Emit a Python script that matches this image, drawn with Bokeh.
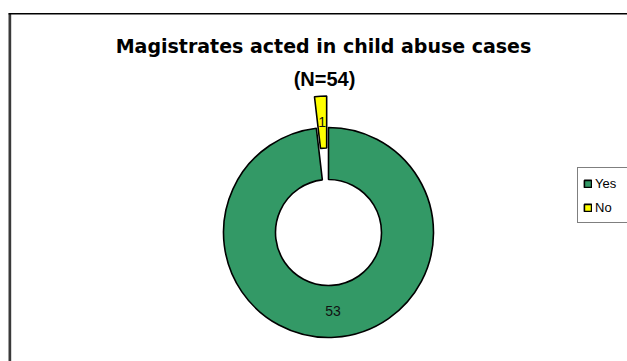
import math
from bokeh.plotting import figure
from bokeh.models import Range1d, Label, Legend, LegendItem, BoxAnnotation, ColumnDataSource
from bokeh.core.properties import value
from bokeh.embed import file_html
from bokeh.resources import INLINE

# ---- data ----
categories = ["Yes", "No"]
counts = [53, 1]
colors = ["#339966", "#FFFF00"]
title_line1 = "Magistrates acted in child abuse cases"
title_line2 = "(N=54)"

# ---- layout constants (screen pixels; y measured from bottom) ----
W, H = 627, 361
CX, CY = 328, H - 232
R_OUT, R_IN = 105, 53
EXPLODE = [0.0, 0.3]  # fraction of outer radius

p = figure(width=W, height=H, output_backend="svg", toolbar_location=None,
           x_range=Range1d(0, W), y_range=Range1d(0, H), min_border=0)
p.axis.visible = False
p.grid.visible = False
p.outline_line_color = None
p.background_fill_color = "white"
p.border_fill_color = "white"

# chart-area border (left and top visible)
p.add_layout(BoxAnnotation(left=8, right=10.7, top=H - 13, bottom=-50,
                           fill_color="#3a3a3a", fill_alpha=1, line_color=None))
p.add_layout(BoxAnnotation(left=8, right=W + 50, top=H - 12.6, bottom=H - 13.9,
                           fill_color="#000000", fill_alpha=1, line_color=None))

total = sum(counts)
starts, ends, xs, ys, lx, ly = [], [], [], [], [], []
cum = 0.0
for c, e in zip(counts, EXPLODE):
    f0 = cum / total
    f1 = (cum + c) / total
    cum += c
    a_start = math.pi / 2 - 2 * math.pi * f1
    a_end = math.pi / 2 - 2 * math.pi * f0
    bis = (a_start + a_end) / 2
    ox = CX + e * R_OUT * math.cos(bis)
    oy = CY + e * R_OUT * math.sin(bis)
    starts.append(a_start)
    ends.append(a_end)
    xs.append(ox)
    ys.append(oy)
    rm = (R_OUT + R_IN) / 2
    lx.append(ox + rm * math.cos(bis))
    ly.append(oy + rm * math.sin(bis))

src = ColumnDataSource(dict(x=xs, y=ys, start=starts, end=ends, color=colors,
                            lx=lx, ly=ly, label=[str(c) for c in counts]))
wedges = p.annular_wedge(x="x", y="y", inner_radius=R_IN, outer_radius=R_OUT,
                         start_angle="start", end_angle="end", direction="anticlock",
                         fill_color="color", line_color="black", line_width=1.6,
                         source=src)
p.text(x="lx", y="ly", text="label", source=src, text_align="center",
       text_baseline="middle", text_font=value("Liberation Sans"),
       text_font_size="14px", text_color="#111111")

# titles
p.add_layout(Label(x=323, y=H - 45.7, text=title_line1, text_align="center",
                   text_baseline="alphabetic", text_font="DejaVu Sans",
                   text_font_style="bold", text_font_size="19px", text_color="black"))
p.add_layout(Label(x=324, y=H - 78.3, text=title_line2, text_align="center",
                   text_baseline="alphabetic", text_font="Liberation Sans",
                   text_font_style="bold", text_font_size="20px", text_color="black"))

# legend with square swatches (drawn from the wedge renderer per index)
items = [LegendItem(label=cat, renderers=[wedges], index=i)
         for i, cat in enumerate(categories)]
legend = Legend(items=items, location=(577, H - 223), orientation="vertical",
                glyph_width=9, glyph_height=9, label_standoff=3, spacing=4,
                padding=5, margin=0, label_height=20, label_width=28,
                label_text_font="Liberation Sans", label_text_font_size="13px",
                label_text_color="black", border_line_color="black",
                border_line_width=1, background_fill_color="white",
                background_fill_alpha=1)
p.add_layout(legend, "center")

open("out.html", "w").write(file_html(p, INLINE))
